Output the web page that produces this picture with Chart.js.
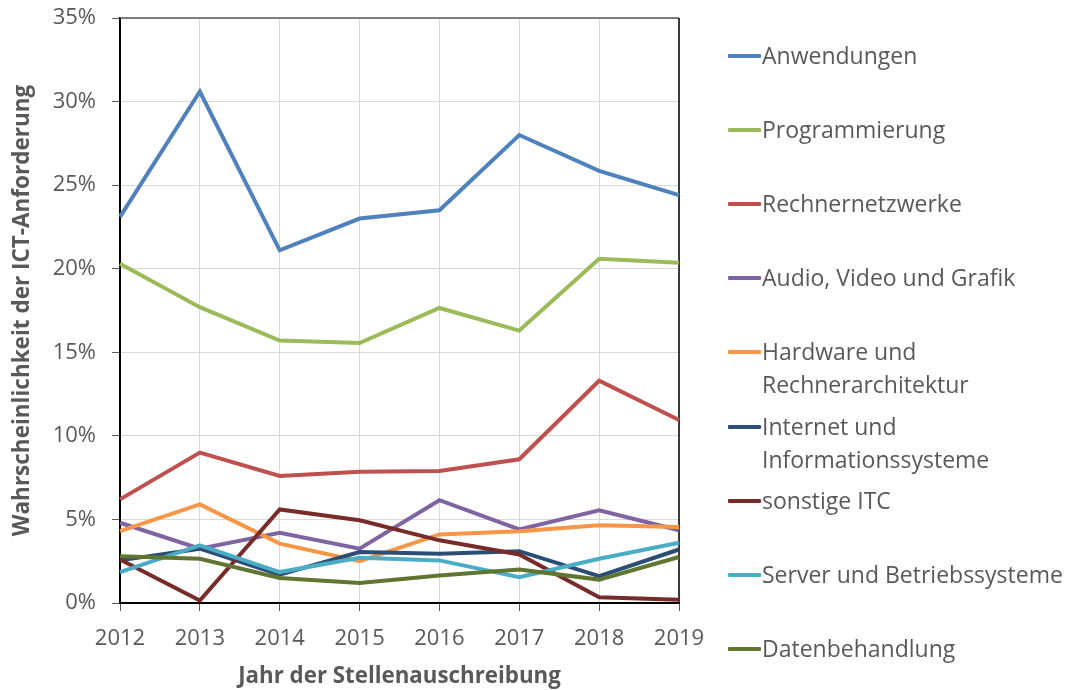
<!DOCTYPE html>
<html>
<head>
<meta charset="utf-8">
<script src="https://cdn.jsdelivr.net/npm/chart.js@4.4.1/dist/chart.umd.min.js"></script>
<style>
  body { margin: 0; background: #fff; }
  #wrap { position: relative; width: 1070px; height: 690px; }
  .item { position: absolute; left: 728px; font: 23px 'Open Sans', sans-serif; color: #595959; white-space: pre; line-height: 33px; }
  .item .mark { position: absolute; left: 0; top: 15px; width: 33px; height: 4px; border-radius: 1px; }
  .item .txt { position: absolute; left: 34px; top: 0; }
</style>
</head>
<body>
<div id="wrap">
  <canvas id="myChart" width="1070" height="690"></canvas>
  <div id="legend"></div>
</div>
<script>
// years on the x axis
const years = ['2012', '2013', '2014', '2015', '2016', '2017', '2018', '2019'];

// values in percent
const anwendungen     = [23.1, 30.6, 21.1, 23.0, 23.5, 28.0, 25.85, 24.4];
const programmierung  = [20.3, 17.7, 15.7, 15.55, 17.65, 16.3, 20.6, 20.35];
const rechnernetze    = [6.2, 9.0, 7.6, 7.85, 7.9, 8.6, 13.3, 10.95];
const audioVideo      = [4.8, 3.25, 4.2, 3.25, 6.15, 4.4, 5.55, 4.35];
const hardware        = [4.3, 5.9, 3.55, 2.5, 4.1, 4.3, 4.65, 4.55];
const internet        = [2.55, 3.25, 1.7, 3.05, 2.95, 3.1, 1.6, 3.2];
const sonstige        = [2.6, 0.15, 5.6, 4.95, 3.75, 2.9, 0.35, 0.2];
const server          = [1.85, 3.45, 1.85, 2.7, 2.55, 1.55, 2.65, 3.6];
const daten           = [2.8, 2.65, 1.5, 1.2, 1.65, 2.0, 1.4, 2.75];

const yTicks = [0, 5, 10, 15, 20, 25, 30, 35];

const names = ['Anwendungen', 'Programmierung', 'Rechnernetzwerke', 'Audio, Video und Grafik',
  'Hardware und\nRechnerarchitektur', 'Internet und\nInformationssysteme', 'sonstige ITC',
  'Server und Betriebssysteme', 'Datenbehandlung'];
const colors = ['#4F81BD', '#9BBB59', '#C0504D', '#8064A2', '#F79646', '#2C4D75', '#772C2A', '#4BACC6', '#5F7530'];
const allSeries = [anwendungen, programmierung, rechnernetze, audioVideo, hardware, internet, sonstige, server, daten];

const grey = '#595959';

// top and right frame of the plot area
const framePlugin = {
  id: 'frame',
  beforeDatasetsDraw(chart) {
    const a = chart.chartArea;
    const ctx = chart.ctx;
    ctx.save();
    ctx.lineWidth = 1.5;
    ctx.strokeStyle = grey;
    ctx.beginPath();
    ctx.moveTo(a.left, a.top);
    ctx.lineTo(a.right, a.top);
    ctx.stroke();
    ctx.strokeStyle = '#000';
    ctx.beginPath();
    ctx.moveTo(a.right, a.top);
    ctx.lineTo(a.right, a.bottom);
    ctx.stroke();
    ctx.restore();
  }
};

let ctx = document.getElementById('myChart').getContext('2d');
let chart = new Chart(ctx, {
  type: 'line',
  data: {
    labels: years,
    datasets: allSeries.map((s, i) => ({
      label: names[i].replace('\n', ' '),
      data: s,
      borderColor: colors[i],
      backgroundColor: colors[i],
      borderWidth: 4,
      pointRadius: 0,
      tension: 0,
      order: -i,
    }))
  },
  options: {
    responsive: false,
    animation: false,
    layout: { padding: { left: 9, right: 391, top: 18, bottom: 0 } },
    plugins: { legend: { display: false }, tooltip: { enabled: false } },
    scales: {
      x: {
        type: 'category',
        offset: false,
        grid: { color: '#D9D9D9', tickColor: grey, tickLength: 8, lineWidth: 1 },
        border: { color: '#000', width: 2 },
        ticks: { color: grey, font: { family: 'Open Sans', size: 22 }, padding: 15, maxRotation: 0 },
        title: { display: true, text: 'Jahr der Stellenauschreibung', color: grey, padding: 0,
          font: { family: 'Open Sans', size: 22.3, weight: 'bold' } },
        afterFit: scale => { scale.height = 87; }
      },
      y: {
        min: 0,
        max: 35,
        afterBuildTicks: scale => { scale.ticks = yTicks.map(v => ({ value: v })); },
        grid: { color: '#D9D9D9', tickColor: grey, tickLength: 8, lineWidth: 1 },
        border: { color: '#000', width: 2 },
        ticks: { color: grey, font: { family: 'Open Sans', size: 22 }, padding: 16,
          callback: v => v + '%' },
        title: { display: true, text: 'Wahrscheinlichkeit der ICT-Anforderung', color: grey, padding: 0,
          font: { family: 'Open Sans', size: 22.5, weight: 'bold' } },
        afterFit: scale => {
          scale.width = 111;
          scale.paddingTop = 0;
          scale.paddingBottom = 0;
        }
      }
    }
  },
  plugins: [framePlugin]
});

// legend on the right
let legend = document.getElementById('legend');
names.forEach((n, i) => {
  let d = document.createElement('div');
  d.className = 'item';
  d.style.top = (39 + i * 74.1) + 'px';
  d.innerHTML = '<span class="mark" style="background:' + colors[i] + '"></span><span class="txt"></span>';
  d.querySelector('.txt').textContent = n;
  legend.appendChild(d);
});
</script>
</body>
</html>
